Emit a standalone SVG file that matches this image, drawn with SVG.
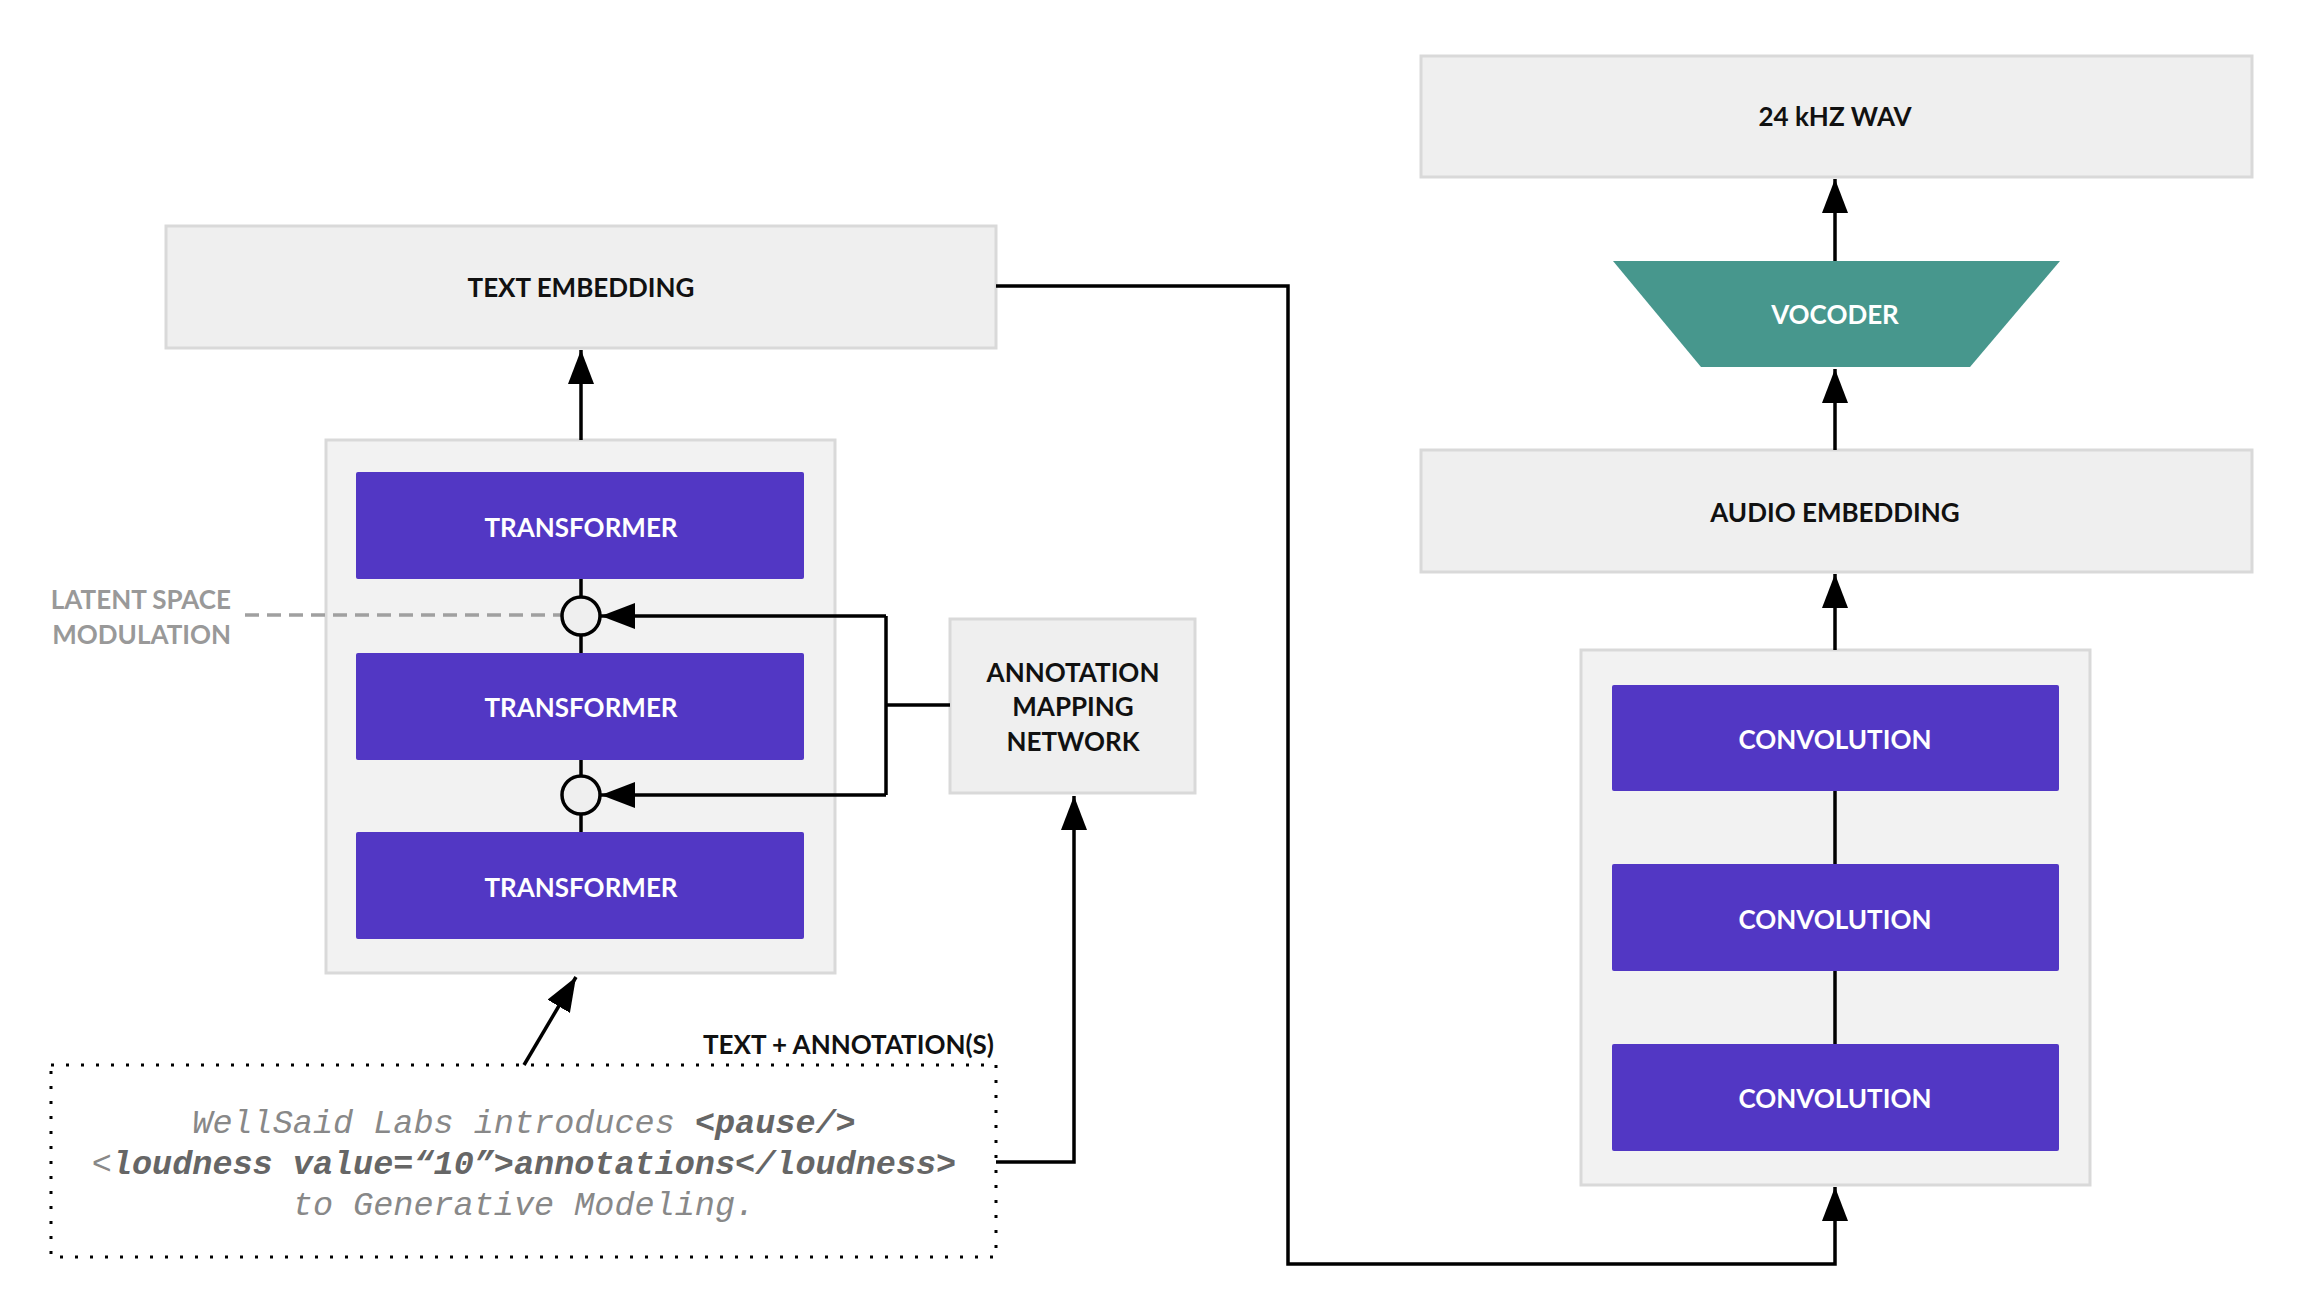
<svg xmlns="http://www.w3.org/2000/svg" width="2300" height="1310" viewBox="0 0 2300 1310">
<style>
.box{fill:#efefef;stroke:#d9d9d9;stroke-width:3}
.cont{fill:#f2f2f2;stroke:#d9d9d9;stroke-width:3}
.blk{fill:#5237c4}
.lbl{font-family:Lato,"Source Sans Pro","Noto Sans",sans-serif;font-weight:700;font-size:26px;text-anchor:middle;dominant-baseline:central}
.dark{fill:#111}
.white{fill:#fff}
.grey{fill:#999}
.conn{fill:none;stroke:#000;stroke-width:3.5}
.code{font-family:"Liberation Mono","Courier New",monospace;font-style:italic;font-size:33.5px;fill:#888;text-anchor:middle}
.code tspan.b{font-weight:700;fill:#666}
</style>
<defs>
<marker id="arr" viewBox="0 0 34 26" refX="34" refY="13" markerWidth="34" markerHeight="26" markerUnits="userSpaceOnUse" orient="auto">
<path d="M0,0 L34,13 L0,26 z" fill="#000"/>
</marker>
</defs>
<rect width="2300" height="1310" fill="#fff"/>

<g id="text-embedding">
<rect class="box" x="166" y="226" width="830" height="122"/>
<text class="lbl dark" x="581" y="287">TEXT EMBEDDING</text>
</g>

<g id="transformer-stack">
<rect class="cont" x="326" y="440" width="509" height="533"/>
</g>
<g id="transformer-1">
<rect class="blk" x="356" y="472" width="448" height="107" rx="2"/>
<text class="lbl white" x="581" y="527">TRANSFORMER</text>
</g>
<g id="transformer-2">
<rect class="blk" x="356" y="653" width="448" height="107" rx="2"/>
<text class="lbl white" x="581" y="707">TRANSFORMER</text>
</g>
<g id="transformer-3">
<rect class="blk" x="356" y="832" width="448" height="107" rx="2"/>
<text class="lbl white" x="581" y="887">TRANSFORMER</text>
</g>

<g id="latent-label">
<text class="lbl grey" style="text-anchor:end" x="231" y="599">LATENT SPACE</text>
<text class="lbl grey" style="text-anchor:end" x="231" y="634">MODULATION</text>
</g>

<g id="annotation-mapping-network">
<rect class="box" x="950" y="619" width="245" height="174"/>
<text class="lbl dark" x="1073" y="672">ANNOTATION</text>
<text class="lbl dark" x="1073" y="706">MAPPING</text>
<text class="lbl dark" x="1073" y="741">NETWORK</text>
</g>

<g id="text-annotations">
<rect x="51" y="1065" width="945" height="192" fill="none" stroke="#000" stroke-width="3" stroke-dasharray="3 12"/>
<text class="lbl dark" style="text-anchor:end" x="994" y="1044">TEXT + ANNOTATION(S)</text>
<text class="code" x="524" y="1133">WellSaid Labs introduces <tspan class="b">&lt;pause/&gt;</tspan></text>
<text class="code" x="524" y="1174">&lt;<tspan class="b">loudness value=“10”&gt;annotations&lt;/loudness&gt;</tspan></text>
<text class="code" x="524" y="1215">to Generative Modeling.</text>
</g>

<g id="wav">
<rect class="box" x="1421" y="56" width="831" height="121"/>
<text class="lbl dark" x="1835" y="116">24 kHZ WAV</text>
</g>

<g id="vocoder">
<polygon points="1613,261 2060,261 1970,367 1701,367" fill="#47978d"/>
<text class="lbl white" x="1835" y="314">VOCODER</text>
</g>

<g id="audio-embedding">
<rect class="box" x="1421" y="450" width="831" height="122"/>
<text class="lbl dark" x="1835" y="512">AUDIO EMBEDDING</text>
</g>

<g id="convolution-stack">
<rect class="cont" x="1581" y="650" width="509" height="535"/>
</g>
<g id="convolution-1">
<rect class="blk" x="1612" y="685" width="447" height="106" rx="2"/>
<text class="lbl white" x="1835" y="739">CONVOLUTION</text>
</g>
<g id="convolution-2">
<rect class="blk" x="1612" y="864" width="447" height="107" rx="2"/>
<text class="lbl white" x="1835" y="919">CONVOLUTION</text>
</g>
<g id="convolution-3">
<rect class="blk" x="1612" y="1044" width="447" height="107" rx="2"/>
<text class="lbl white" x="1835" y="1098">CONVOLUTION</text>
</g>

<g id="connectors">
<line class="conn" x1="581" y1="440" x2="581" y2="350" marker-end="url(#arr)"/>
<line class="conn" x1="581" y1="579" x2="581" y2="653"/>
<line class="conn" x1="581" y1="760" x2="581" y2="832"/>
<polyline class="conn" points="950,705 886,705"/>
<polyline class="conn" points="886,616 886,795"/>
<line class="conn" x1="886" y1="616" x2="601" y2="616" marker-end="url(#arr)"/>
<line class="conn" x1="886" y1="795" x2="601" y2="795" marker-end="url(#arr)"/>
<line x1="245" y1="615" x2="562" y2="615" stroke="#a0a0a0" stroke-width="3.5" stroke-dasharray="14 8"/>
<line class="conn" x1="524" y1="1065" x2="576" y2="977" marker-end="url(#arr)"/>
<polyline class="conn" points="996,1162 1074,1162 1074,796" marker-end="url(#arr)"/>
<polyline class="conn" points="996,286 1288,286 1288,1264 1835,1264 1835,1187" marker-end="url(#arr)"/>
<line class="conn" x1="1835" y1="1044" x2="1835" y2="971"/>
<line class="conn" x1="1835" y1="864" x2="1835" y2="791"/>
<line class="conn" x1="1835" y1="650" x2="1835" y2="574" marker-end="url(#arr)"/>
<line class="conn" x1="1835" y1="450" x2="1835" y2="369" marker-end="url(#arr)"/>
<line class="conn" x1="1835" y1="261" x2="1835" y2="179" marker-end="url(#arr)"/>
</g>

<g id="modulation-1">
<circle cx="581" cy="616" r="19" fill="#efefef" stroke="#000" stroke-width="3.5"/>
</g>
<g id="modulation-2">
<circle cx="581" cy="795" r="19" fill="#efefef" stroke="#000" stroke-width="3.5"/>
</g>
</svg>
